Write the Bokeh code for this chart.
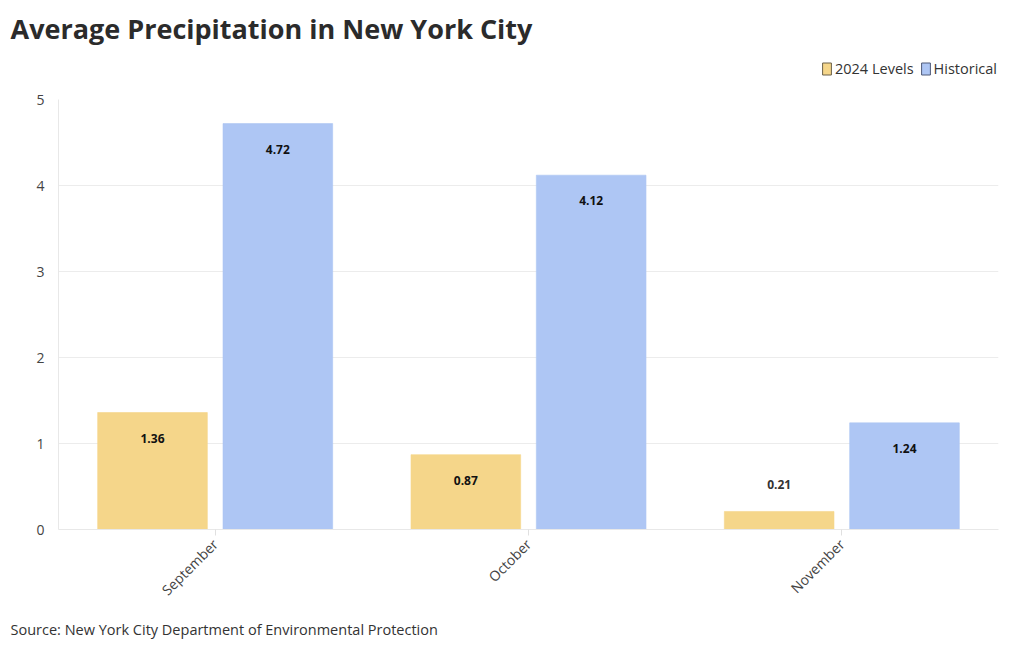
import math
from bokeh.plotting import figure
from bokeh.layouts import column
from bokeh.models import (ColumnDataSource, FactorRange, Range1d, Legend, LegendItem,
                          Title, LabelSet)
from bokeh.core.properties import value
from bokeh.transform import dodge
from bokeh.embed import file_html
from bokeh.resources import INLINE

months = ["September", "October", "November"]
levels_2024 = [1.36, 0.87, 0.21]
historical = [4.72, 4.12, 1.24]
series_names = ["2024 Levels", "Historical"]
y_ticks = [0, 1, 2, 3, 4, 5]
title_text = "Average Precipitation in New York City"
source_text = "Source: New York City Department of Environmental Protection"

FONT = "Open Sans"
YELLOW = "#F5D68A"
BLUE = "#AEC6F4"

def label_pos(vals):
    ys, txt, col = [], [], []
    for v in vals:
        if v >= 0.6:
            ys.append(v - 0.3); col.append("#111111")
        else:
            ys.append(v + 0.31); col.append("#333333")
        txt.append(f"{v:.2f}")
    return ys, txt, col

y1, t1, c1 = label_pos(levels_2024)
y2, t2, c2 = label_pos(historical)

src = ColumnDataSource(dict(month=months, lv=levels_2024, hist=historical,
                            ly=y1, lt=t1, lc=c1, hy=y2, ht=t2, hc=c2))

# ---------- header figure: title + legend (bars kept out of its view) ----------
top = figure(width=1016, height=89, x_range=FactorRange(*months, range_padding=0),
             y_range=Range1d(10, 11), x_axis_type=None, y_axis_type=None,
             output_backend="svg", toolbar_location=None,
             min_border_left=58, min_border_right=18, min_border_top=52, min_border_bottom=0)
top.outline_line_color = None
top.xgrid.grid_line_color = None
top.ygrid.grid_line_color = None
top.title.text = title_text
top.title.text_font = FONT
top.title.text_font_size = "27px"
top.title.text_font_style = "bold"
top.title.text_color = "#2b2b2b"
top.title.offset = -48
top.title.standoff = 14

d1 = top.vbar(x=dodge("month", -0.2, range=top.x_range), top="lv", width=0.35, source=src,
              fill_color=YELLOW, line_color="#6b6048", line_width=1)
d2 = top.vbar(x=dodge("month", 0.2, range=top.x_range), top="hist", width=0.35, source=src,
              fill_color=BLUE, line_color="#4f5a78", line_width=1)
legend = Legend(items=[LegendItem(label=series_names[0], renderers=[d1], index=0),
                       LegendItem(label=series_names[1], renderers=[d2], index=0)],
                orientation="horizontal", location=(763, 11),
                label_text_font=FONT, label_text_font_size="14.5px", label_text_color="#333333",
                glyph_width=11, glyph_height=15, label_standoff=3, spacing=6,
                border_line_color=None, background_fill_alpha=0,
                padding=2, margin=0)
top.add_layout(legend, "center")

# ---------- main chart ----------
p = figure(x_range=FactorRange(*months, range_padding=0), y_range=Range1d(0, 5),
           frame_width=940, frame_height=430, output_backend="svg", toolbar_location=None,
           min_border_left=58, min_border_right=18, min_border_top=10, min_border_bottom=0)
p.outline_line_color = None
p.title.visible = False

p.vbar(x=dodge("month", -0.2, range=p.x_range), top="lv", width=0.35, source=src,
       fill_color=YELLOW, line_color=YELLOW, line_alpha=0.6)
p.vbar(x=dodge("month", 0.2, range=p.x_range), top="hist", width=0.35, source=src,
       fill_color=BLUE, line_color=BLUE, line_alpha=0.6)

for xoff, ycol, tcol, ccol in [(-0.2, "ly", "lt", "lc"), (0.2, "hy", "ht", "hc")]:
    p.add_layout(LabelSet(x=dodge("month", xoff, range=p.x_range), y=ycol, text=tcol, source=src,
                          text_align="center", text_baseline="middle", text_font=value(FONT),
                          text_font_size="12px", text_font_style="bold", text_color=ccol))

p.xgrid.grid_line_color = None
p.ygrid.grid_line_color = "#ececec"
p.yaxis.ticker = y_ticks
p.yaxis.axis_line_color = "#e8e8e8"
p.yaxis.major_tick_line_color = None
p.yaxis.minor_tick_line_color = None
p.yaxis.major_label_text_font = FONT
p.yaxis.major_label_text_font_size = "14px"
p.yaxis.major_label_text_color = "#444444"
p.yaxis.major_label_standoff = 8

p.xaxis.axis_line_color = "#e8e8e8"
p.xaxis.major_tick_line_color = "#e0e0e0"
p.xaxis.major_tick_in = 0
p.xaxis.major_tick_out = 6
p.xaxis.major_label_orientation = math.pi / 4
p.xaxis.major_label_text_font = FONT
p.xaxis.major_label_text_font_size = "14px"
p.xaxis.major_label_text_color = "#444444"
p.xaxis.major_label_standoff = 6

p.add_layout(Title(text=source_text, text_font=FONT, text_font_size="14.5px",
                   text_font_style="normal", text_color="#333333",
                   offset=-48, standoff=18), "below")

layout = column(top, p, spacing=0)
open("out.html", "w").write(file_html(layout, INLINE))
